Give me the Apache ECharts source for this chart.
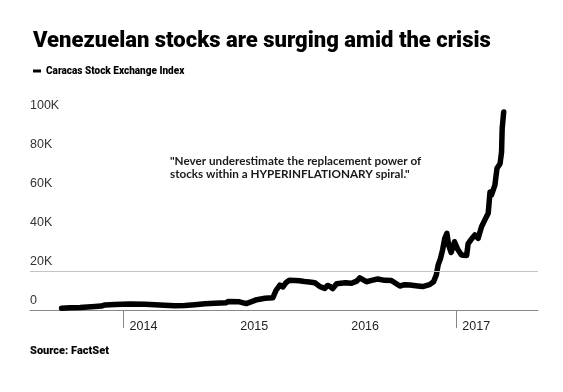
<!DOCTYPE html>
<html>
<head>
<meta charset="utf-8">
<script src="https://cdn.jsdelivr.net/npm/echarts@6/dist/echarts.min.js"></script>
<style>
html,body{margin:0;padding:0;background:#fff;}
#chart{width:563px;height:392px;}
</style>
</head>
<body>
<div id="chart"></div>
<script>
var dates = [
'2013-06-11','2013-07-09','2013-08-11','2013-09-29','2013-10-20','2013-11-01','2013-12-04',
'2014-01-22','2014-03-13','2014-04-30','2014-06-19','2014-07-22','2014-08-24','2014-09-26','2014-10-29','2014-12-04','2014-12-11',
'2015-01-18','2015-02-09','2015-02-27','2015-03-16','2015-04-12','2015-05-08','2015-05-18','2015-05-31','2015-06-10','2015-06-20','2015-07-01','2015-07-20','2015-08-03','2015-08-20','2015-09-05','2015-09-23','2015-10-10','2015-10-26','2015-11-04','2015-11-11','2015-11-21','2015-12-04',
'2016-01-01','2016-01-22','2016-02-08','2016-02-18','2016-03-11','2016-03-28','2016-04-17','2016-05-10','2016-06-01','2016-06-29','2016-07-15','2016-08-01','2016-08-27','2016-09-12','2016-10-05','2016-10-18','2016-10-27','2016-11-02','2016-11-10','2016-11-17','2016-11-24','2016-12-01','2016-12-07','2016-12-15','2016-12-26',
'2017-01-06','2017-01-18','2017-02-04','2017-02-09','2017-02-18','2017-03-03','2017-03-14','2017-03-25','2017-04-05','2017-04-16','2017-04-22','2017-04-27','2017-05-08','2017-05-15','2017-05-25','2017-05-30','2017-06-01','2017-06-06'
];
var values = [
900,1100,1300,1800,2000,2600,2800,
3100,2900,2600,2200,2300,2700,3200,3500,3700,4300,
4200,3300,4300,5300,6000,6300,10000,12800,11800,14000,15300,15100,15000,14600,14400,14000,12000,11100,12600,12200,11000,13500,
14000,13700,14800,16500,14500,15200,15900,15200,15100,12300,13000,12800,12300,12000,13000,14500,18000,23000,26500,31000,36800,39300,33000,29500,35000,
31000,28200,28000,34000,36000,38500,36800,42700,46200,49600,60500,59000,64000,72700,75000,81000,93000,101500
];
var yTicks = [0,20000,40000,60000,80000,100000];
var yearLabels = ['2014-01-01','2015-01-01','2016-01-01','2017-01-01'];
var yearTicks = ['2014-01-01','2017-01-01'];
var titleText = 'Venezuelan stocks are surging amid the crisis';
var seriesName = 'Caracas Stock Exchange Index';
var quote = '"Never underestimate the replacement power of\nstocks within a HYPERINFLATIONARY spiral."';
var sourceText = 'Source: FactSet';

var ts = function(s){ return new Date(s + 'T00:00:00Z').getTime(); };
var chart = echarts.init(document.getElementById('chart'), null, {renderer:'canvas'});
chart.setOption({
  animation:false,
  backgroundColor:'#fff',
  title:{
    text:titleText, left:28, top:25,
    textStyle:{fontFamily:'Roboto',fontWeight:900,fontSize:22,color:'#000'}
  },
  legend:{
    left:28, top:61, icon:'rect', itemWidth:8, itemHeight:3, itemGap:4,
    textStyle:{fontFamily:'Roboto',fontWeight:900,fontSize:10,color:'#000'},
    data:[{name:seriesName}]
  },
  grid:{left:30,right:25,top:95.5,bottom:82,containLabel:false},
  xAxis:{
    type:'value',
    min:ts('2013-02-27'), max:ts('2017-09-27'),
    axisLine:{show:true,onZero:false,lineStyle:{color:'#888',width:1}},
    axisTick:{show:true,length:18,lineStyle:{color:'#888'},customValues:yearTicks.map(ts)},
    axisLabel:{customValues:yearLabels.map(ts),align:'left',padding:[0,0,0,6],margin:10,
      fontFamily:'Liberation Sans',fontSize:12.5,color:'#222',
      formatter:function(v){return new Date(v).getUTCFullYear()+'';}},
    splitLine:{show:false}
  },
  yAxis:{
    type:'value', min:0, max:110000,
    axisLine:{show:false}, axisTick:{show:false}, splitLine:{show:false},
    axisLabel:{customValues:yTicks,inside:true,align:'left',verticalAlign:'bottom',padding:[0,0,3,0],margin:0,
      fontFamily:'Liberation Sans',fontSize:12.5,color:'#333',
      formatter:function(v){return v===0?'0':(v/1000)+'K';}}
  },
  series:[{
    name:seriesName, type:'line', showSymbol:false, symbol:'none',
    data:dates.map(function(d,i){return [ts(d),values[i]];}),
    lineStyle:{color:'#000',width:5.5,join:'round',cap:'round'},
    itemStyle:{color:'#000'},
    markLine:{silent:true,symbol:'none',label:{show:false},
      lineStyle:{color:'#c4c4c4',type:'solid',width:1},
      data:[{yAxis:20000}]}
  }],
  graphic:[
    {type:'text',left:170,top:154,style:{text:quote,font:'bold 11.7px Lato',fill:'#1a1a1a',lineHeight:13.5}},
    {type:'text',left:30,top:346,style:{text:sourceText,font:'900 11px Roboto',fill:'#000'}}
  ]
});
</script>
</body>
</html>
